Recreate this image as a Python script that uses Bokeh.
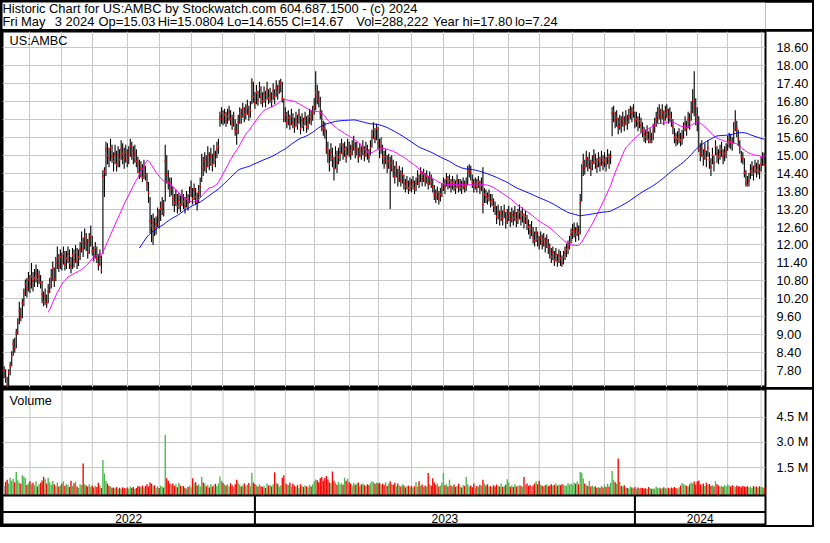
import numpy as np
import pandas as pd
from bokeh.plotting import figure
from bokeh.models import (Range1d, FixedTicker, PrintfTickFormatter, Label, Span,
                          ColumnDataSource, Column)
from bokeh.embed import file_html
from bokeh.resources import INLINE
from bokeh.core.properties import value

# ---------------- data ----------------
title_line1 = "Historic Chart for US:AMBC by Stockwatch.com 604.687.1500 - (c) 2024"
title_line2_fields = ["Fri May", "3 2024", "Op=15.03", "Hi=15.0804", "Lo=14.655",
                      "Cl=14.67", "Vol=288,222", "Year hi=17.80", "lo=7.24"]
symbol = "US:AMBC"
volume_title = "Volume"
years = ["2022", "2023", "2024"]
months_per_year = [8, 12, 5]
month_lengths = [17, 21, 20, 23, 21, 21, 21, 21,
                 20, 19, 23, 19, 22, 21, 20, 23, 20, 22, 21, 20,
                 21, 20, 20, 22, 3]
price_ticks = [7.80, 8.40, 9.00, 9.60, 10.20, 10.80, 11.40, 12.00, 12.60, 13.20,
               13.80, 14.40, 15.00, 15.60, 16.20, 16.80, 17.40, 18.00, 18.60]
volume_ticks = [1500, 3000, 4500]
volume_tick_labels = ["1.5 M", "3.0 M", "4.5 M"]
ma_short, ma_long = 30, 90

close = [
 7.80, 7.55, 7.30, 7.75, 7.95, 8.30, 8.70, 8.55, 9.05, 9.40,
 9.80, 9.60, 10.05, 10.40, 10.70, 10.55, 10.85, 10.70, 10.95, 10.80,
 10.90, 11.05, 10.85, 10.95, 10.75, 10.35, 10.10, 10.30, 10.05, 10.45,
 10.65, 10.90, 11.20, 10.85, 11.40, 11.55, 11.30, 11.60, 11.45, 11.70,
 11.35, 11.55, 11.70, 11.40, 11.30, 11.65, 11.50, 11.75, 11.45, 11.60,
 11.85, 12.10, 11.90, 12.25, 12.05, 11.75, 12.15, 12.30, 11.80, 11.65,
 11.90, 11.55, 11.35, 11.60, 11.15, 14.30, 14.45, 15.20, 15.00, 14.90,
 15.25, 14.95, 14.80, 15.05, 14.70, 15.00, 14.85, 15.20, 15.05, 14.90,
 15.10, 14.85, 15.00, 15.30, 15.15, 14.95, 15.05, 14.80, 14.70, 14.40,
 14.55, 14.25, 14.60, 14.35, 14.05, 13.75, 12.80, 12.65, 12.75, 12.55,
 12.70, 13.05, 12.85, 13.20, 13.35, 13.10, 14.80, 14.35, 14.10, 13.90,
 14.00, 13.55, 13.40, 13.65, 13.30, 13.50, 13.35, 13.60, 13.45, 13.30,
 13.55, 13.40, 13.70, 13.90, 13.55, 13.85, 13.60, 13.40, 13.75, 13.95,
 14.70, 14.55, 14.85, 14.65, 15.00, 14.75, 14.95, 14.70, 15.05, 14.85,
 15.20, 15.30, 16.25, 16.40, 16.20, 16.35, 16.15, 16.30, 16.45, 16.20,
 16.05, 16.30, 15.85, 15.80, 16.10, 16.40, 16.30, 16.55, 16.35, 16.45,
 16.60, 16.35, 16.50, 17.40, 16.95, 16.75, 17.10, 16.85, 17.25, 16.95,
 16.80, 17.05, 16.85, 17.20, 16.90, 17.00, 16.80, 17.15, 16.95, 17.25,
 17.10, 17.30, 17.40, 16.90, 16.25, 16.35, 16.10, 16.25, 16.05, 16.30,
 16.10, 15.95, 16.20, 16.05, 16.35, 15.90, 16.15, 16.00, 16.25, 15.95,
 16.10, 16.30, 16.20, 16.40, 16.60, 17.08, 16.95, 16.85, 16.40, 15.95,
 15.90, 15.85, 15.20, 15.05, 14.70, 15.10, 14.90, 14.55, 15.00, 14.75,
 14.95, 15.10, 15.35, 15.05, 15.20, 14.95, 15.30, 15.15, 15.05, 15.25,
 15.40, 15.10, 15.20, 14.95, 15.15, 15.05, 15.25, 15.00, 15.20, 15.10,
 14.95, 15.25, 15.60, 15.85, 15.55, 15.90, 15.40, 15.20, 15.30, 14.95,
 14.80, 14.95, 14.65, 14.80, 14.60, 14.75, 14.50, 14.30, 14.60, 14.20,
 14.45, 14.15, 14.35, 14.05, 13.95, 14.10, 13.90, 14.05, 13.95, 14.10,
 13.90, 14.05, 14.25, 14.10, 14.40, 14.20, 14.35, 14.15, 14.30, 14.05,
 14.25, 14.10, 13.95, 13.70, 13.60, 13.75, 13.55, 13.70, 13.85, 14.05,
 13.95, 14.20, 14.05, 14.15, 13.95, 14.10, 14.00, 13.90, 14.15, 13.95,
 14.00, 13.90, 14.05, 13.95, 14.00, 14.45, 14.50, 14.40, 14.10, 13.95,
 14.05, 13.95, 14.10, 13.90, 14.00, 13.35, 13.70, 13.60, 13.55, 13.65,
 13.45, 13.50, 13.30, 13.25, 12.95, 13.10, 12.85, 13.05, 12.90, 13.15,
 12.80, 12.95, 13.05, 12.85, 13.00, 12.90, 13.05, 12.85, 12.95, 13.10,
 12.90, 13.00, 12.80, 12.95, 12.75, 12.60, 12.45, 12.55, 12.30, 12.15,
 12.40, 12.20, 12.05, 12.25, 12.10, 12.20, 12.00, 12.15, 11.95, 11.80,
 11.60, 11.75, 11.50, 11.70, 11.45, 11.65, 11.55, 11.40, 11.60, 11.75,
 11.85, 11.95, 12.10, 12.35, 12.45, 12.50, 12.35, 12.55, 12.40, 13.40,
 14.55, 14.75, 14.60, 14.90, 14.70, 14.85, 14.55, 14.75, 14.95, 14.80,
 14.65, 14.85, 14.70, 14.90, 14.75, 14.85, 14.70, 14.95, 14.80, 14.95,
 16.40, 16.45, 16.15, 16.25, 15.95, 16.10, 16.00, 16.20, 16.05, 16.25,
 16.10, 16.30, 16.45, 16.40, 16.50, 16.15, 16.20, 16.05, 16.15, 16.00,
 15.85, 15.70, 15.60, 15.75, 15.50, 15.65, 15.45, 15.80, 16.00, 16.20,
 16.35, 16.50, 16.30, 16.45, 16.25, 16.40, 16.50, 16.30, 16.35, 16.20,
 15.95, 15.60, 15.50, 15.55, 15.65, 15.50, 15.60, 15.85, 16.05, 15.90,
 16.20, 16.10, 16.45, 16.80, 16.60, 16.35, 16.20, 15.20, 15.05, 15.25,
 14.95, 15.15, 14.90, 15.25, 14.85, 14.60, 15.00, 14.75, 15.30, 15.05,
 14.95, 15.10, 15.20, 14.95, 15.05, 15.15, 15.40, 15.50, 15.45, 15.40,
 15.85, 16.10, 15.90, 15.55, 15.30, 14.95, 14.90, 14.40, 14.05, 14.00,
 14.15, 14.45, 14.55, 14.40, 14.65, 14.50, 14.60, 14.45, 14.70, 14.95, 14.67,
]

high = [
 7.95, 7.85, 7.60, 7.85, 8.10, 8.45, 8.85, 8.90, 9.20, 9.55,
 10.10, 9.90, 10.20, 10.55, 10.85, 10.90, 11.10, 11.00, 11.40, 11.10,
 11.20, 11.35, 11.20, 11.15, 11.00, 10.80, 10.45, 10.55, 10.35, 10.70,
 10.90, 11.20, 11.45, 11.25, 11.60, 11.95, 11.70, 11.85, 11.75, 11.95,
 11.80, 11.80, 11.95, 11.85, 11.60, 11.90, 11.85, 12.00, 11.90, 11.85,
 12.10, 12.45, 12.25, 12.55, 12.40, 12.20, 12.40, 12.65, 12.30, 11.95,
 12.10, 11.95, 11.70, 11.85, 11.65, 14.50, 14.60, 15.45, 15.40, 15.25,
 15.55, 15.35, 15.10, 15.35, 15.15, 15.30, 15.20, 15.50, 15.40, 15.25,
 15.35, 15.20, 15.30, 15.55, 15.45, 15.30, 15.35, 15.20, 14.95, 14.85,
 14.80, 14.70, 14.85, 14.65, 14.40, 14.10, 13.60, 13.00, 13.05, 12.90,
 12.95, 13.25, 13.20, 13.45, 13.60, 13.50, 15.35, 15.00, 14.50, 14.25,
 14.25, 13.95, 13.70, 13.85, 13.70, 13.75, 13.65, 13.85, 13.70, 13.60,
 13.80, 13.70, 13.95, 14.15, 13.90, 14.05, 13.90, 13.75, 14.00, 14.25,
 15.05, 14.95, 15.10, 15.00, 15.30, 15.10, 15.25, 15.05, 15.35, 15.15,
 15.45, 15.55, 16.45, 16.60, 16.50, 16.55, 16.45, 16.55, 16.65, 16.50,
 16.35, 16.45, 16.20, 16.05, 16.35, 16.60, 16.55, 16.75, 16.60, 16.70,
 16.85, 16.65, 16.80, 17.57, 17.45, 17.10, 17.35, 17.15, 17.45, 17.30,
 17.10, 17.30, 17.15, 17.45, 17.20, 17.25, 17.10, 17.40, 17.20, 17.50,
 17.35, 17.50, 17.55, 17.45, 16.90, 16.60, 16.45, 16.50, 16.35, 16.55,
 16.40, 16.25, 16.45, 16.35, 16.55, 16.30, 16.40, 16.25, 16.45, 16.30,
 16.35, 16.55, 16.50, 16.65, 16.90, 17.80, 17.35, 17.15, 16.95, 16.50,
 16.15, 16.10, 15.85, 15.45, 15.20, 15.40, 15.25, 14.95, 15.30, 15.15,
 15.25, 15.40, 15.55, 15.40, 15.45, 15.30, 15.55, 15.45, 15.35, 15.50,
 15.65, 15.45, 15.45, 15.25, 15.40, 15.30, 15.50, 15.30, 15.45, 15.35,
 15.20, 15.50, 15.85, 16.10, 15.90, 16.05, 15.95, 15.55, 15.60, 15.35,
 15.15, 15.20, 15.00, 15.05, 14.95, 15.00, 14.85, 14.65, 14.80, 14.55,
 14.65, 14.50, 14.60, 14.35, 14.20, 14.30, 14.15, 14.25, 14.20, 14.30,
 14.15, 14.25, 14.50, 14.35, 14.60, 14.45, 14.55, 14.40, 14.50, 14.30,
 14.45, 14.35, 14.20, 14.00, 13.85, 13.95, 13.80, 13.90, 14.05, 14.25,
 14.20, 14.40, 14.30, 14.35, 14.20, 14.30, 14.20, 14.15, 14.35, 14.20,
 14.20, 14.15, 14.25, 14.15, 14.25, 14.65, 14.70, 14.65, 14.35, 14.20,
 14.25, 14.20, 14.30, 14.15, 14.25, 14.60, 13.90, 13.85, 13.75, 13.85,
 13.70, 13.70, 13.55, 13.45, 13.30, 13.35, 13.15, 13.30, 13.15, 13.35,
 13.10, 13.20, 13.30, 13.10, 13.25, 13.15, 13.30, 13.10, 13.20, 13.35,
 13.15, 13.25, 13.05, 13.15, 13.00, 12.85, 12.70, 12.80, 12.60, 12.45,
 12.60, 12.45, 12.30, 12.45, 12.35, 12.40, 12.25, 12.35, 12.20, 12.05,
 11.90, 11.95, 11.80, 11.90, 11.70, 11.85, 11.80, 11.65, 11.80, 11.95,
 12.05, 12.15, 12.30, 12.55, 12.70, 12.75, 12.60, 12.75, 12.65, 13.70,
 14.70, 15.05, 14.85, 15.15, 14.95, 15.10, 14.85, 15.00, 15.20, 15.05,
 14.90, 15.10, 14.95, 15.15, 15.00, 15.10, 14.95, 15.20, 15.05, 15.15,
 16.60, 16.65, 16.45, 16.50, 16.25, 16.35, 16.30, 16.45, 16.30, 16.50,
 16.35, 16.55, 16.65, 16.60, 16.70, 16.45, 16.45, 16.30, 16.40, 16.25,
 16.10, 15.95, 15.85, 16.00, 15.80, 15.90, 15.75, 16.05, 16.25, 16.45,
 16.60, 16.70, 16.55, 16.70, 16.50, 16.65, 16.70, 16.55, 16.60, 16.45,
 16.20, 15.90, 15.75, 15.80, 15.90, 15.75, 15.85, 16.10, 16.30, 16.15,
 16.45, 16.40, 16.80, 17.20, 17.80, 16.90, 16.60, 16.30, 15.40, 15.50,
 15.20, 15.40, 15.15, 15.50, 15.10, 14.90, 15.25, 15.00, 15.50, 15.30,
 15.20, 15.35, 15.45, 15.20, 15.30, 15.40, 15.65, 15.75, 15.70, 15.60,
 16.10, 16.50, 16.15, 15.85, 15.50, 15.15, 15.10, 14.90, 14.50, 14.30,
 14.40, 14.70, 14.80, 14.65, 14.85, 14.75, 14.85, 14.70, 14.95, 15.10, 15.08,
]

low = [
 7.55, 7.40, 7.24, 7.30, 7.65, 7.95, 8.30, 8.40, 8.55, 9.00,
 9.35, 9.45, 9.55, 9.95, 10.30, 10.25, 10.45, 10.40, 10.55, 10.45,
 10.60, 10.75, 10.60, 10.70, 10.55, 10.05, 9.95, 10.00, 9.90, 10.05,
 10.40, 10.55, 10.80, 10.60, 10.80, 11.20, 11.10, 11.20, 11.15, 11.35,
 11.15, 11.20, 11.40, 11.20, 11.05, 11.20, 11.25, 11.40, 11.20, 11.30,
 11.50, 11.75, 11.60, 11.85, 11.80, 11.55, 11.70, 11.95, 11.65, 11.45,
 11.55, 11.40, 11.15, 11.30, 11.05, 11.70, 13.60, 14.30, 14.70, 14.60,
 14.80, 14.75, 14.45, 14.70, 14.45, 14.60, 14.60, 14.85, 14.70, 14.55,
 14.75, 14.60, 14.70, 14.95, 14.85, 14.70, 14.75, 14.60, 14.40, 14.20,
 14.25, 14.10, 14.20, 14.15, 13.80, 13.40, 12.40, 12.10, 12.00, 12.30,
 12.35, 12.60, 12.55, 12.80, 13.00, 12.95, 13.45, 14.05, 13.85, 13.60,
 13.65, 13.30, 13.10, 13.30, 13.05, 13.20, 13.10, 13.30, 13.20, 13.05,
 13.25, 13.15, 13.40, 13.60, 13.35, 13.50, 13.35, 13.15, 13.40, 13.60,
 14.10, 14.30, 14.45, 14.40, 14.60, 14.50, 14.65, 14.45, 14.70, 14.60,
 14.90, 15.05, 15.95, 16.05, 16.00, 16.05, 15.95, 16.05, 16.15, 16.00,
 15.85, 15.95, 15.65, 15.35, 15.70, 16.05, 16.05, 16.25, 16.10, 16.20,
 16.35, 16.15, 16.25, 16.70, 16.75, 16.55, 16.70, 16.65, 16.90, 16.70,
 16.60, 16.75, 16.60, 16.85, 16.70, 16.75, 16.60, 16.85, 16.70, 16.95,
 16.85, 17.05, 17.10, 16.75, 16.10, 16.10, 15.90, 16.00, 15.85, 16.00,
 15.90, 15.75, 15.95, 15.85, 16.05, 15.70, 15.90, 15.80, 16.00, 15.75,
 15.85, 16.05, 16.00, 16.15, 16.35, 16.50, 16.70, 16.60, 16.20, 15.80,
 15.65, 15.55, 15.05, 14.75, 14.45, 14.80, 14.60, 14.15, 14.55, 14.40,
 14.70, 14.80, 15.05, 14.85, 14.95, 14.75, 15.00, 14.95, 14.85, 15.00,
 15.15, 14.90, 15.00, 14.75, 14.95, 14.85, 15.00, 14.80, 14.95, 14.85,
 14.75, 15.00, 15.25, 15.55, 15.40, 15.50, 15.20, 14.90, 15.05, 14.70,
 14.55, 14.70, 14.40, 14.55, 13.20, 14.45, 14.25, 14.05, 14.25, 13.95,
 14.10, 13.95, 14.05, 13.85, 13.75, 13.85, 13.70, 13.80, 13.75, 13.85,
 13.70, 13.80, 14.00, 13.90, 14.10, 13.95, 14.10, 13.95, 14.05, 13.85,
 14.00, 13.90, 13.75, 13.50, 13.40, 13.50, 13.35, 13.45, 13.60, 13.80,
 13.70, 13.95, 13.85, 13.90, 13.75, 13.85, 13.80, 13.70, 13.90, 13.75,
 13.80, 13.70, 13.85, 13.75, 13.80, 14.00, 14.25, 14.15, 13.90, 13.75,
 13.85, 13.75, 13.90, 13.70, 13.80, 13.05, 13.40, 13.40, 13.35, 13.45,
 13.25, 13.30, 13.10, 13.00, 12.70, 12.85, 12.65, 12.80, 12.65, 12.90,
 12.55, 12.70, 12.80, 12.60, 12.75, 12.65, 12.80, 12.60, 12.70, 12.85,
 12.65, 12.75, 12.55, 12.70, 12.50, 12.35, 12.20, 12.30, 12.05, 11.95,
 12.10, 11.95, 11.85, 12.00, 11.85, 11.95, 11.75, 11.90, 11.70, 11.55,
 11.40, 11.50, 11.30, 11.45, 11.27, 11.40, 11.30, 11.27, 11.35, 11.50,
 11.60, 11.70, 11.85, 12.05, 12.20, 12.25, 12.10, 12.30, 12.15, 12.35,
 13.45, 14.30, 14.35, 14.60, 14.45, 14.55, 14.30, 14.50, 14.70, 14.55,
 14.40, 14.60, 14.45, 14.65, 14.50, 14.60, 14.45, 14.70, 14.55, 14.70,
 15.63, 16.10, 15.90, 15.95, 15.70, 15.85, 15.75, 15.95, 15.80, 16.00,
 15.85, 16.05, 16.20, 16.10, 16.25, 15.90, 15.95, 15.80, 15.90, 15.75,
 15.60, 15.45, 15.40, 15.50, 15.40, 15.40, 15.40, 15.50, 15.75, 15.95,
 16.05, 16.20, 16.05, 16.20, 16.00, 16.15, 16.25, 16.05, 16.10, 15.95,
 15.70, 15.40, 15.30, 15.35, 15.40, 15.30, 15.35, 15.55, 15.80, 15.65,
 15.90, 15.85, 16.15, 16.40, 16.30, 16.00, 15.80, 15.10, 14.80, 14.95,
 14.65, 14.85, 14.60, 14.95, 14.55, 14.30, 14.70, 14.45, 15.00, 14.75,
 14.70, 14.85, 14.95, 14.70, 14.80, 14.90, 15.15, 15.25, 15.20, 15.15,
 15.40, 15.80, 15.60, 15.30, 15.05, 14.75, 14.70, 14.25, 13.95, 13.95,
 13.95, 14.20, 14.30, 14.15, 14.40, 14.25, 14.35, 14.20, 14.45, 14.65, 14.655,
]

# daily volume, thousands of shares
volume_k = [
 420, 650, 780, 560, 900, 720, 830, 640, 1250, 760,
 610, 540, 1050, 980, 880, 470, 560, 690, 520, 600,
 450, 700, 380, 520, 600, 740, 960, 820, 560, 900,
 640, 480, 710, 520, 400, 620, 380, 450, 560, 700,
 430, 520, 480, 360, 720, 410, 580, 660, 390, 300,
 520, 470, 1750, 520, 440, 390, 510, 360, 450, 330,
 420, 350, 600, 450, 300, 1950, 1150, 720, 560, 420,
 380, 310, 330, 280, 360, 250, 310, 230, 340, 290,
 260, 330, 270, 380, 290, 350, 240, 300, 420, 380,
 360, 450, 280, 420, 510, 380, 620, 540, 430, 460,
 300, 380, 290, 450, 370, 330, 3440, 880, 720, 560,
 470, 560, 420, 510, 340, 610, 450, 380, 420, 300,
 250, 360, 430, 320, 880, 580, 640, 450, 520, 380,
 950, 620, 560, 400, 470, 330, 510, 380, 460, 540,
 420, 560, 980, 720, 610, 500, 450, 520, 390, 580,
 460, 350, 520, 780, 610, 500, 380, 450, 560, 420,
 480, 590, 400, 1200, 620, 520, 450, 380, 520, 400,
 360, 420, 300, 560, 440, 470, 380, 520, 1230, 600,
 540, 380, 450, 900, 1050, 610, 520, 470, 620, 380,
 560, 440, 360, 470, 300, 520, 410, 360, 450, 400,
 340, 480, 390, 520, 690, 800, 760, 640, 880, 950,
 720, 890, 1000, 800, 620, 570, 1280, 730, 600, 480,
 650, 520, 570, 480, 900, 730, 850, 640, 560, 420,
 600, 480, 540, 620, 380, 500, 560, 470, 420, 520,
 460, 570, 700, 650, 540, 620, 580, 600, 490, 550,
 480, 640, 420, 560, 700, 520, 480, 610, 400, 560,
 430, 380, 520, 440, 320, 400, 450, 360, 420, 330,
 400, 640, 380, 700, 420, 500, 360, 450, 380, 1180,
 520, 430, 880, 620, 470, 560, 380, 450, 620, 1180,
 460, 520, 380, 780, 440, 390, 500, 360, 420, 550,
 380, 320, 470, 420, 950, 520, 380, 450, 340, 560,
 300, 420, 360, 480, 410, 780, 560, 450, 520, 370,
 420, 340, 460, 380, 500, 430, 390, 560, 360, 420,
 480, 820, 600, 370, 450, 350, 520, 380, 410, 460,
 430, 370, 950, 480, 560, 420, 470, 380, 450, 560,
 690, 520, 720, 480, 430, 380, 460, 520, 400, 450,
 520, 440, 480, 560, 430, 500, 460, 520, 480, 450,
 430, 580, 500, 560, 470, 620, 540, 680, 520, 1250,
 1200, 860, 560, 470, 420, 720, 380, 450, 360, 400,
 290, 350, 310, 420, 330, 470, 360, 540, 380, 600,
 1300, 760, 640, 540, 2040, 650, 420, 380, 460, 330,
 300, 260, 380, 320, 280, 350, 240, 330, 270, 310,
 300, 260, 280, 230, 360, 290, 240, 270, 250, 380,
 290, 320, 260, 280, 340, 300, 250, 310, 270, 330,
 280, 350, 300, 260, 330, 450, 590, 520, 480, 420,
 380, 510, 620, 560, 680, 480, 700, 740, 520, 460,
 560, 420, 600, 480, 530, 420, 460, 380, 700, 520,
 450, 380, 420, 350, 480, 400, 520, 440, 380, 460,
 420, 360, 450, 380, 400, 340, 430, 380, 350, 410,
 330, 380, 300, 420, 350, 380, 320, 400, 340, 360, 288,
]

n = len(close)
assert len(high) == n and len(low) == n and len(volume_k) == n == sum(month_lengths), \
    (len(close), len(high), len(low), len(volume_k), sum(month_lengths))

# ---------------- styling / layout constants ----------------
FONT = "Liberation Sans"
FS = "12.7px"
FS_TITLE = "12.9px"
GRID = "#c8c8c8"
GREEN = "#4cb84c"
RED = "#ff0000"
GREY = "#a0a0a0"
W = 810          # figure width (inside 2px black border)
RIGHT = 47       # right axis column
H_TITLE, H_PRICE, H_VOL = 27, 356, 136
TOTAL_W, TOTAL_H = 814, 527
# x positions (px) of the fields of the second title line
title_line2_x = [0, 55.6, 101.9, 164.7, 238.3, 306.9, 375.6, 457.0, 544.0]

idx = np.arange(n)
cum = np.cumsum(month_lengths)
month_starts = [int(c) for c in cum[:-1]]
year_end_month = np.cumsum(months_per_year)
year_bounds = [int(cum[k - 1]) for k in year_end_month[:-1]]

x_start, x_end = -1.06, n - 0.1
x_range = Range1d(x_start, x_end)

ma1 = pd.Series(close).rolling(ma_short).mean()
ma2 = pd.Series(close).rolling(ma_long).mean()

chg = np.diff(np.array(close), prepend=close[0])
vcolors = np.where(chg > 0, GREEN, np.where(chg < 0, RED, GREY))

src = ColumnDataSource(dict(i=idx, c=close, h=high, l=low, v=volume_k,
                            vc=vcolors, m1=ma1, m2=ma2))


def base_fig(height, y_range, **kw):
    f = figure(width=W, height=height, x_range=x_range, y_range=y_range,
               output_backend="svg", toolbar_location=None,
               x_axis_location=None, y_axis_location="right",
               min_border_left=0, min_border_right=RIGHT,
               min_border_top=0, min_border_bottom=0,
               background_fill_color="white", border_fill_color="white",
               outline_line_color="black", outline_line_width=2, **kw)
    ax = f.yaxis[0]
    ax.axis_line_color = None
    ax.major_tick_line_color = None
    ax.minor_tick_line_color = None
    ax.major_label_text_font = FONT
    ax.major_label_text_font_size = FS
    ax.major_label_text_color = "black"
    ax.major_label_standoff = 5
    f.ygrid.grid_line_color = GRID
    return f


# ---------------- title ----------------
t = figure(width=W, height=H_TITLE, x_range=Range1d(0, W), y_range=Range1d(0, H_TITLE),
           output_backend="svg", toolbar_location=None,
           x_axis_location=None, y_axis_location=None,
           min_border_left=0, min_border_right=0, min_border_top=0, min_border_bottom=0,
           outline_line_color=None, background_fill_color="white", border_fill_color="white")
t.grid.visible = False
t.add_layout(Label(x=0, y=21.4, text=title_line1, text_font=FONT, text_font_size=FS_TITLE,
                   text_color="black", text_baseline="middle"))
for txt, xx in zip(title_line2_fields, title_line2_x):
    t.add_layout(Label(x=xx, y=8.2, text=txt, text_font=FONT, text_font_size=FS_TITLE,
                       text_color="black", text_baseline="middle"))

# ---------------- price panel ----------------
p = base_fig(H_PRICE, Range1d(7.24, 19.13))
p.yaxis.ticker = FixedTicker(ticks=price_ticks)
p.yaxis.formatter = PrintfTickFormatter(format="%.2f")
p.ygrid.ticker = FixedTicker(ticks=price_ticks)
p.xgrid.ticker = FixedTicker(ticks=month_starts)
p.xgrid.grid_line_color = GRID

p.segment(x0="i", y0="l", x1="i", y1="h", source=src, line_color="black", line_width=1.1)
p.rect(x="i", y="c", width=1.4, height=2, width_units="screen", height_units="screen",
       source=src, fill_color="red", line_color=None)
p.line(x="i", y="m1", source=src, line_color="#ff00ff", line_width=1)
p.line(x="i", y="m2", source=src, line_color="#0000ff", line_width=1)
p.add_layout(Label(x=3.6, y=18.81, text=symbol, text_font=FONT, text_font_size=FS,
                   text_color="black", text_baseline="middle"))

# ---------------- volume panel + date strip ----------------
v_lo, v_hi = -1933, 6144
v = base_fig(H_VOL, Range1d(v_lo, v_hi))
v.extra_y_ranges = {"strip": Range1d(0, 140)}
STRIP_TOP, STRIP_MID = 31, 14
vol_floor = v_lo + STRIP_TOP / 140 * (v_hi - v_lo)
v.yaxis.ticker = FixedTicker(ticks=volume_ticks)
v.yaxis.major_label_overrides = {k: lab for k, lab in zip(volume_ticks, volume_tick_labels)}
v.ygrid.ticker = FixedTicker(ticks=volume_ticks)
v.xgrid.visible = False

v.segment(x0=month_starts, y0=[vol_floor] * len(month_starts),
          x1=month_starts, y1=[v_hi] * len(month_starts), line_color=GRID, line_width=1)
v.vbar(x="i", top="v", bottom=vol_floor, width=0.9, source=src,
       fill_color="vc", line_color=None)
v.add_layout(Label(x=3.6, y=5450, text=volume_title, text_font=FONT, text_font_size=FS,
                   text_color="black", text_baseline="middle"))

v.add_layout(Span(location=STRIP_TOP, dimension="width", y_range_name="strip",
                  line_color="black", line_width=2))
v.add_layout(Span(location=STRIP_MID, dimension="width", y_range_name="strip",
                  line_color="black", line_width=2))
v.segment(x0=year_bounds, y0=[0] * len(year_bounds), x1=year_bounds,
          y1=[STRIP_TOP] * len(year_bounds), y_range_name="strip",
          line_color="black", line_width=2)
edges = [x_start] + year_bounds + [x_end]
year_centers = [(edges[k] + edges[k + 1]) / 2 for k in range(len(years))]
v.text(x=year_centers, y=[7] * len(years), text=years, y_range_name="strip",
       text_font=value(FONT), text_font_size=value("12px"), text_color="black",
       text_align="center", text_baseline="middle")

layout = Column(children=[t, p, v], spacing=2, width=TOTAL_W, height=TOTAL_H,
                styles={"background-color": "black", "border": "2px solid black",
                        "box-sizing": "border-box"})

open("out.html", "w").write(file_html(layout, INLINE))
